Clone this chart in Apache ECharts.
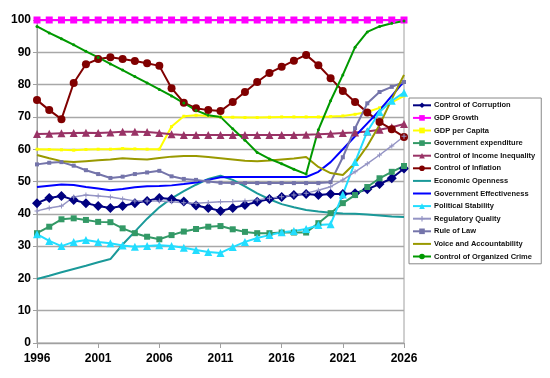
<!DOCTYPE html>
<html><head><meta charset="utf-8">
<script src="https://cdn.jsdelivr.net/npm/echarts@6/dist/echarts.min.js"></script>
<style>html,body{margin:0;padding:0;background:#fff}#c{width:550px;height:378px}</style>
</head><body><div id="c"></div>
<script>
var years = [];
for (var y = 1996; y <= 2026; y++) years.push(String(y));
var yTicks = [0,10,20,30,40,50,60,70,80,90,100];

var corruption = [43.3,44.9,45.5,44.3,43.3,42.4,41.8,42.4,43.3,44.0,44.9,44.6,43.8,42.6,41.8,40.9,41.8,42.7,43.7,44.6,45.2,45.8,46.1,45.8,46.1,46.1,46.4,47.6,49.2,51.0,54.0];
var gdpGrowth = [100,100,100,100,100,100,100,100,100,100,100,100,100,100,100,100,100,100,100,100,100,100,100,100,100,100,100,100,100,100,100];
var gdpPerCapita = [60.0,59.9,59.8,59.7,59.9,60.0,60.0,60.2,60.1,60.0,60.0,67.0,70.2,70.5,70.3,70.0,69.9,69.8,69.8,69.9,70.0,70.0,70.0,70.0,70.1,70.3,70.8,71.5,72.8,74.5,76.5];
var govExpenditure = [34.0,36.0,38.3,38.6,38.1,37.5,37.4,35.5,34.0,32.9,32.1,33.4,34.5,35.3,36.0,36.2,35.2,34.4,34.0,34.0,34.2,34.2,34.2,37.1,40.2,43.3,45.8,48.3,51.0,53.0,54.8];
var incomeInequality = [64.7,64.8,64.9,65.0,65.1,65.0,65.2,65.4,65.4,65.3,65.0,64.6,64.4,64.4,64.4,64.4,64.4,64.4,64.4,64.4,64.4,64.4,64.5,64.6,64.8,65.0,65.2,65.5,66.0,66.8,67.8];
var inflation = [75.2,72.1,69.3,80.5,86.3,87.9,88.5,87.9,87.3,86.6,85.8,78.9,74.4,72.7,72.1,71.8,74.6,77.7,80.8,83.6,85.5,87.4,89.2,86.0,82.0,78.0,74.6,71.4,68.4,66.2,63.8];
var econOpenness = [19.8,20.8,21.9,22.9,23.9,25.0,26.0,30.5,34.5,38.5,42.0,44.8,47.0,49.0,50.8,51.8,50.5,48.5,46.3,44.5,43.0,42.0,41.2,40.7,40.3,40.1,40.0,39.8,39.5,39.2,39.0];
var govEffectiveness = [48.3,48.7,49.1,48.9,48.3,47.8,47.3,47.7,48.2,48.5,48.6,48.8,49.2,49.7,50.5,51.3,51.4,51.4,51.4,51.4,51.4,51.4,51.4,53.0,56.0,60.0,64.0,68.0,72.0,76.5,81.0];
var politicalStability = [33.7,31.6,30.0,31.3,31.9,31.3,30.9,30.2,29.8,30.0,30.3,30.0,29.5,28.8,28.2,27.9,29.7,31.3,32.5,33.4,34.3,34.7,35.3,36.5,36.8,46.0,56.0,65.5,71.5,75.0,77.5];
var regulatoryQuality = [40.9,41.8,42.4,45.2,45.8,45.5,45.2,44.6,44.0,44.0,44.0,43.7,43.4,43.3,43.5,43.7,43.8,44.0,44.3,44.8,45.3,45.8,46.4,47.3,48.4,50.5,53.0,55.5,58.2,61.0,64.0];
var ruleOfLaw = [55.3,55.8,56.0,54.9,53.5,52.3,51.1,51.5,52.3,52.8,53.3,51.6,50.8,50.5,50.0,49.6,49.5,49.5,49.5,49.5,49.5,49.5,49.5,49.5,49.8,57.5,66.5,74.2,77.7,79.3,80.8];
var voiceAccountability = [58.2,57.2,56.3,56.0,56.3,56.6,56.8,57.2,57.0,56.8,57.3,57.7,57.9,57.9,57.6,57.2,56.8,56.4,56.3,56.5,56.8,57.1,57.6,54.5,52.6,52.0,55.7,61.0,67.5,75.5,83.0];
var organizedCrime = [98.0,96.0,94.2,92.3,90.3,88.4,86.4,84.5,82.5,80.5,78.5,76.5,74.3,72.0,70.5,70.0,66.3,62.8,59.0,57.0,55.5,53.8,52.3,66.0,75.0,83.0,91.6,96.3,98.0,99.0,99.7];

var plus = 'path://M4,0H6V4H10V6H6V10H4V6H0V4H4Z';
function s(name, data, color, symbol, size, width) {
  return {
    name: name, type: 'line', data: data,
    symbol: symbol, symbolSize: size, showSymbol: symbol !== 'none', showAllSymbol: true,
    lineStyle: {color: color, width: width || 2},
    itemStyle: {color: color, borderWidth: 0},
    emphasis: {disabled: true}
  };
}
var series = [
  s('Control of Corruption', corruption, '#000080', 'diamond', 10),
  s('GDP Growth', gdpGrowth, '#ff00ff', 'rect', 7),
  s('GDP per Capita', gdpPerCapita, '#ffff00', 'rect', 3),
  s('Government expenditure', govExpenditure, '#339966', 'rect', 6),
  s('Control of Income Inequality', incomeInequality, '#993366', 'triangle', 8),
  s('Control of Inflation', inflation, '#800000', 'circle', 8),
  s('Economic Openness', econOpenness, '#1a9999', 'none', 0),
  s('Government Effectiveness', govEffectiveness, '#0000ff', 'none', 0),
  s('Political Stability', politicalStability, '#22ddff', 'triangle', 8),
  s('Regulatory Quality', regulatoryQuality, '#9494c4', plus, 5, 1.5),
  s('Rule of Law', ruleOfLaw, '#7474aa', 'rect', 4),
  s('Voice and Accountability', voiceAccountability, '#999900', 'none', 0),
  s('Control of Organized Crime', organizedCrime, '#009900', 'circle', 3)
];

var chart = echarts.init(document.getElementById('c'), null, {renderer: 'canvas'});
chart.setOption({
  animation: false,
  backgroundColor: '#fff',
  textStyle: {fontFamily: 'Liberation Sans, Arial, sans-serif'},
  grid: {left: 37, right: 146, top: 20, bottom: 35, show: true, borderColor: '#a0a0a0', borderWidth: 1},
  legend: {
    orient: 'vertical', left: 409, top: 98,
    itemWidth: 18, itemHeight: 7, itemGap: 0,
    padding: [1, 6, 1, 3],
    borderColor: '#888', borderWidth: 1,
    textStyle: {fontSize: 7.5, fontWeight: 'bold', color: '#111', lineHeight: 12.6, padding: [0, 0, 0, -2]},
    data: series.map(function(x){
      var d = {name: x.name};
      if (x.symbol === 'none') d.itemStyle = {opacity: 0};
      return d;
    })
  },
  xAxis: {
    type: 'category', data: years, boundaryGap: false,
    axisLine: {lineStyle: {color: '#a0a0a0'}},
    axisTick: {interval: 4, length: 5, lineStyle: {color: '#a0a0a0'}},
    axisLabel: {interval: 4, color: '#000', fontWeight: 'bold', fontSize: 12, margin: 10}
  },
  yAxis: {
    type: 'value', min: yTicks[0], max: yTicks[yTicks.length-1], interval: 10,
    axisLine: {show: true, lineStyle: {color: '#a0a0a0'}},
    axisTick: {show: true, length: 4, lineStyle: {color: '#a0a0a0'}},
    splitLine: {lineStyle: {color: '#a8a8a8', width: 1.3}},
    axisLabel: {color: '#000', fontWeight: 'bold', fontSize: 12, margin: 6}
  },
  series: series
});
</script></body></html>
